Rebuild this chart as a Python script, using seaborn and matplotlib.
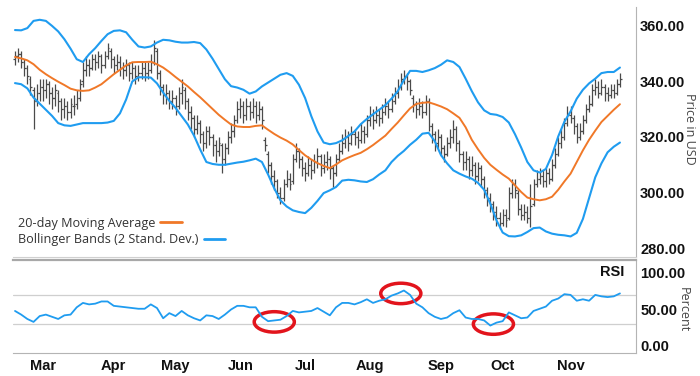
import matplotlib
matplotlib.use('Agg')
import matplotlib.pyplot as plt
from matplotlib.patches import Ellipse
from matplotlib.lines import Line2D
import seaborn as sns
import numpy as np
import pandas as pd

# daily OHLC bars (USD), one per trading day, mid-Feb to late Nov
opens = [348, 349, 350, 347, 345, 341, 337, 333, 336, 338,
         337, 339, 336, 334, 336, 333, 330, 331, 329, 331,
         332, 334, 340, 344, 346, 345, 348, 347, 349, 346,
         349, 351, 348, 346, 347, 345, 344, 346, 343, 345,
         342, 343, 345, 343, 344, 347, 351, 343, 338, 335,
         336, 333, 334, 331, 336, 337, 333, 329, 327, 323,
         325, 321, 318, 322, 320, 317, 315, 317, 312, 316,
         320, 322, 326, 330, 331, 328, 331, 329, 331, 328,
         330, 319, 314, 310, 306, 304, 300, 298, 303, 305,
         304, 312, 315, 312, 309, 307, 310, 308, 311, 313,
         309, 311, 312, 309, 307, 312, 315, 318, 320, 318,
         321, 320, 319, 322, 321, 326, 328, 326, 328, 327,
         329, 331, 330, 333, 336, 338, 341, 342, 340, 334,
         332, 330, 331, 329, 333, 324, 321, 318, 320, 316,
         314, 318, 320, 323, 318, 314, 311, 312, 308, 310,
         306, 309, 305, 301, 298, 296, 293, 291, 289, 292,
         291, 300, 303, 300, 294, 292, 293, 291, 296, 303,
         305, 306, 304, 307, 305, 310, 314, 318, 320, 325,
         328, 327, 324, 320, 322, 326, 330, 332, 337, 338,
         336, 338, 336, 335, 337, 336, 339]
highs = [351, 352, 351, 348, 346, 342, 338, 339, 341, 341,
         341, 340, 338, 339, 337, 334, 334, 333, 334, 335,
         337, 341, 347, 349, 348, 350, 350, 351, 350, 351,
         354, 352, 349, 350, 349, 347, 348, 347, 347, 346,
         346, 347, 347, 347, 350, 355, 352, 344, 339, 339,
         337, 337, 335, 338, 341, 338, 334, 331, 328, 328,
         326, 322, 324, 324, 321, 319, 320, 318, 318, 322,
         325, 328, 333, 334, 333, 334, 333, 334, 333, 333,
         331, 320, 315, 311, 308, 305, 302, 305, 308, 307,
         314, 318, 316, 313, 311, 313, 312, 314, 316, 314,
         314, 315, 313, 310, 314, 318, 321, 323, 322, 324,
         323, 322, 325, 324, 328, 331, 330, 331, 330, 332,
         334, 333, 336, 338, 341, 343, 344, 343, 341, 335,
         333, 334, 333, 335, 334, 325, 322, 323, 321, 317,
         320, 323, 326, 324, 319, 315, 315, 313, 313, 311,
         311, 310, 306, 302, 300, 297, 295, 293, 294, 294,
         302, 305, 305, 301, 296, 296, 295, 303, 305, 308,
         309, 308, 309, 309, 312, 316, 320, 323, 327, 331,
         331, 328, 325, 325, 328, 332, 335, 339, 341, 340,
         341, 339, 338, 339, 339, 341, 343]
lows = [346, 347, 345, 342, 339, 335, 323, 331, 333, 333,
        334, 332, 330, 331, 329, 326, 327, 326, 327, 328,
        330, 333, 338, 342, 342, 344, 344, 345, 343, 345,
        348, 345, 343, 344, 342, 341, 342, 340, 341, 339,
        340, 341, 340, 341, 343, 346, 341, 335, 332, 332,
        330, 330, 328, 330, 332, 330, 326, 323, 320, 321,
        318, 315, 316, 317, 313, 311, 313, 307, 310, 314,
        318, 320, 325, 327, 325, 326, 326, 327, 325, 326,
        323, 315, 307, 303, 301, 298, 296, 297, 302, 301,
        303, 311, 309, 306, 304, 306, 305, 307, 309, 306,
        307, 308, 305, 302, 306, 311, 314, 316, 315, 317,
        317, 316, 318, 318, 320, 324, 323, 325, 324, 325,
        328, 327, 329, 332, 334, 337, 339, 337, 335, 329,
        327, 328, 327, 328, 322, 318, 315, 316, 313, 311,
        313, 316, 318, 315, 311, 308, 308, 305, 306, 303,
        304, 302, 298, 295, 293, 290, 288, 287, 288, 287.5,
        290, 298, 298, 292, 290, 290, 289, 287.5, 295, 302,
        303, 302, 302, 303, 304, 309, 313, 316, 319, 324,
        325, 321, 318, 319, 321, 325, 329, 331, 335, 334,
        335, 333, 333, 334, 334, 335, 338]
closes = [349, 350, 347, 345, 342, 338, 333, 336, 338, 337,
          339, 336, 334, 337, 333, 330, 331, 329, 332, 331,
          334, 339, 344, 346, 345, 348, 347, 349, 346, 349,
          352, 348, 346, 347, 345, 344, 346, 343, 345, 342,
          343, 345, 343, 344, 347, 352, 343, 338, 335, 336,
          333, 334, 331, 336, 338, 333, 329, 327, 323, 325,
          321, 318, 322, 320, 317, 315, 318, 312, 316, 320,
          322, 326, 330, 331, 328, 331, 329, 331, 328, 330,
          326, 317, 310, 306, 304, 300, 298, 303, 305, 303,
          312, 315, 312, 309, 307, 310, 308, 311, 313, 309,
          311, 312, 309, 307, 312, 315, 318, 320, 318, 321,
          320, 319, 322, 321, 326, 328, 326, 328, 327, 329,
          331, 330, 333, 336, 338, 341, 342, 340, 337, 332,
          330, 331, 329, 333, 324, 321, 318, 320, 316, 314,
          318, 320, 323, 318, 314, 311, 312, 308, 310, 306,
          309, 305, 301, 298, 296, 293, 291, 289, 292, 290,
          300, 303, 301, 294, 292, 293, 291, 295, 303, 305,
          306, 304, 307, 305, 310, 314, 318, 320, 325, 328,
          327, 324, 320, 322, 326, 330, 332, 337, 338, 336,
          338, 336, 335, 337, 336, 339, 341]

band_step = 2
ma20 = [348.8, 348.3, 347.6, 346.2, 344.2, 342.6, 341.2, 339.9, 338.7, 337.4,
        336.8, 336.6, 336.8, 337.8, 339.0, 340.8, 342.6, 344.2, 345.8, 346.9,
        347.0, 347.0, 347.1, 346.2, 345.0, 343.4, 341.6, 339.9, 338.2, 336.2,
        334.3, 332.2, 330.1, 328.0, 326.2, 324.5, 323.8, 323.6, 323.6, 324.0,
        324.2, 322.6, 321.1, 319.8, 318.7, 317.3, 315.3, 313.4, 311.9, 310.6,
        309.6, 308.8, 310.1, 311.6, 312.6, 313.5, 314.3, 315.6, 317.1, 318.8,
        320.5, 322.9, 325.2, 327.8, 330.3, 331.9, 332.3, 332.5, 331.8, 331.0,
        330.0, 328.5, 326.9, 323.5, 319.0, 315.6, 312.5, 310.0, 308.2, 306.5,
        305.0, 302.6, 300.2, 298.2, 297.6, 297.2, 297.6, 298.5, 301.0, 304.0,
        306.8, 311.0, 315.2, 319.0, 322.3, 325.4, 327.6, 329.8, 331.8]
upper_band = [358.5, 358.4, 359.2, 361.8, 362.2, 361.8, 360.0, 358.0, 355.2, 351.8,
              348.0, 347.0, 349.8, 352.0, 354.6, 357.0, 358.2, 358.4, 357.7, 355.0,
              352.6, 352.2, 352.6, 354.0, 355.0, 354.8, 354.3, 354.0, 354.0, 354.2,
              353.8, 351.5, 348.2, 344.5, 340.8, 338.3, 337.8, 337.0, 335.6, 336.4,
              338.2, 339.6, 341.0, 342.4, 343.0, 342.0, 338.8, 334.0, 327.5, 322.0,
              318.0, 317.4, 317.8, 318.8, 320.4, 322.0, 324.6, 326.5, 328.2, 329.8,
              331.5, 333.8, 336.5, 340.5, 343.8, 343.8, 343.4, 344.0, 344.8, 346.0,
              347.6, 347.0, 345.2, 341.0, 336.5, 332.5, 329.6, 328.3, 328.0, 327.2,
              325.2, 321.0, 316.2, 311.0, 308.0, 307.2, 308.5, 313.5, 320.2, 325.5,
              329.2, 333.8, 337.0, 339.3, 341.0, 343.0, 343.4, 343.4, 345.0]
lower_band = [339.4, 339.0, 337.5, 334.2, 332.0, 329.8, 327.6, 325.0, 324.2, 324.0,
              324.5, 325.0, 325.0, 325.0, 325.0, 325.2, 325.8, 328.5, 333.5, 340.0,
              341.5, 341.5, 341.4, 339.3, 336.0, 333.0, 330.5, 327.5, 324.5, 320.5,
              315.5, 311.0, 310.3, 310.0, 310.0, 310.4, 310.8, 311.1, 311.6, 312.2,
              311.0, 306.5, 301.5, 297.2, 295.0, 293.6, 293.0, 292.6, 294.5, 297.0,
              299.8, 300.8, 302.0, 304.3, 304.6, 304.4, 304.0, 303.8, 304.8, 306.5,
              308.0, 311.0, 313.2, 315.0, 317.2, 319.0, 321.2, 321.5, 318.5, 313.5,
              310.5, 308.0, 306.8, 305.8, 305.0, 303.5, 301.0, 296.0, 290.0, 285.6,
              284.3, 284.2, 284.6, 285.8, 287.2, 287.4, 286.0, 285.2, 284.8, 284.6,
              284.2, 285.5, 290.5, 298.0, 305.5, 310.5, 314.5, 316.5, 318.0]

rsi_step = 2
rsi = [48, 43, 37, 33, 41, 43, 40, 37, 42, 43,
       53, 59, 57, 58, 61, 61, 55, 54, 53, 52,
       51, 51, 57, 52, 38, 45, 41, 48, 42, 38,
       35, 42, 41, 37, 43, 50, 55, 55, 53, 53,
       40, 34, 35, 36, 41, 48, 46, 47, 48, 52,
       47, 42, 53, 59, 59, 57, 60, 64, 59, 62,
       64, 69, 72, 76, 70, 58, 53, 45, 40, 37,
       39, 45, 49, 39, 37, 37, 35, 28, 32, 34,
       46, 42, 38, 39, 48, 51, 54, 62, 65, 71,
       70, 62, 64, 62, 70, 68, 67, 68, 72]

# RSI extremes circled in red (trading day, RSI value)
circled_days = [84, 125, 155]
circled_rsi = [33, 72, 30]

months = ['Mar', 'Apr', 'May', 'Jun', 'Jul', 'Aug', 'Sep', 'Oct', 'Nov']
month_start_day = [9, 32, 52, 73, 94, 115, 138, 158, 180]
price_ticks = [280, 300, 320, 340, 360]
rsi_ticks = [0, 50, 100]
rsi_levels = [30, 70]

blue = '#1f9cf0'
orange = '#f07828'
red = '#e2141c'
bar_col = '#4a4a4a'
frame_col = '#b4b4b4'

sns.set_style('white')
plt.rcParams['font.family'] = ['Liberation Sans', 'DejaVu Sans']

days = np.arange(len(closes))
bands = pd.DataFrame({'day': np.arange(len(ma20)) * band_step,
                      'ma': ma20, 'upper': upper_band, 'lower': lower_band})
rsi_df = pd.DataFrame({'day': np.arange(len(rsi)) * rsi_step, 'rsi': rsi})

fig = plt.figure(figsize=(7, 3.76), dpi=100)
ax = fig.add_axes([13 / 700, 1 - 257 / 376, 623 / 700, 250 / 376])
ax2 = fig.add_axes([13 / 700, 1 - 353 / 376, 623 / 700, 93 / 376])

# price bars
ax.vlines(days, lows, highs, color=bar_col, lw=0.9)
ax.hlines(opens, days - 0.55, days, color=bar_col, lw=0.9)
ax.hlines(closes, days, days + 0.55, color=bar_col, lw=0.9)

sns.lineplot(data=bands, x='day', y='upper', color=blue, lw=1.5, ax=ax, estimator=None)
sns.lineplot(data=bands, x='day', y='lower', color=blue, lw=1.5, ax=ax, estimator=None)
sns.lineplot(data=bands, x='day', y='ma', color=orange, lw=1.4, ax=ax, estimator=None)

xlim = (-0.65, 201.2)
ax.set_xlim(*xlim)
ax.set_ylim(276.8, 366.8)
ax.set_xlabel('')
ax.set_ylabel('')
ax.tick_params(axis='x', bottom=False, labelbottom=False)
ax.yaxis.tick_right()
ax.set_yticks(price_ticks)
ax.yaxis.set_major_formatter('{x:.2f}')
ax.tick_params(axis='y', length=0, pad=3, labelsize=10.5, labelcolor='#111111')
plt.setp(ax.get_yticklabels(), fontweight='bold')
for s in ['left', 'top']:
    ax.spines[s].set_visible(False)
ax.spines['right'].set_color(frame_col)
ax.spines['bottom'].set_color('#d0d0d0')

legend_font = {'family': ['Open Sans', 'DejaVu Sans'], 'size': 9.1}
leg1 = ax.legend(handles=[Line2D([], [], color=orange, lw=2)],
                 labels=['20-day Moving Average'], loc='center left',
                 bbox_to_anchor=(0.008, 0.136), markerfirst=False, frameon=False,
                 handlelength=1.7, handletextpad=0.4, borderpad=0,
                 borderaxespad=0, prop=legend_font, labelcolor='#333333')
ax.add_artist(leg1)
ax.legend(handles=[Line2D([], [], color=blue, lw=2)],
          labels=['Bollinger Bands (2 Stand. Dev.)'], loc='center left',
          bbox_to_anchor=(0.008, 0.068), markerfirst=False, frameon=False,
          handlelength=1.7, handletextpad=0.4, borderpad=0,
          borderaxespad=0, prop=legend_font, labelcolor='#333333')

# RSI panel
for lvl in rsi_levels:
    ax2.axhline(lvl, color='#cfcfcf', lw=0.9, zorder=0)
sns.lineplot(data=rsi_df, x='day', y='rsi', color=blue, lw=1.3, ax=ax2, estimator=None)
for d, r in zip(circled_days, circled_rsi):
    ax2.add_patch(Ellipse((d, r), width=13, height=28, fill=False, ec=red, lw=2.5))

ax2.set_xlim(*xlim)
ax2.set_ylim(-9.6, 117.8)
ax2.set_xlabel('')
ax2.set_ylabel('')
ax2.set_xticks(month_start_day)
ax2.set_xticklabels(months)
ax2.tick_params(axis='x', length=2.5, color=frame_col, pad=2, labelsize=10.5, labelcolor='#111111')
ax2.yaxis.tick_right()
ax2.set_yticks(rsi_ticks)
ax2.yaxis.set_major_formatter('{x:.2f}')
ax2.tick_params(axis='y', length=0, pad=3, labelsize=10.5, labelcolor='#111111')
plt.setp(ax2.get_yticklabels() + ax2.get_xticklabels(), fontweight='bold')
ax2.spines['left'].set_visible(False)
ax2.spines['top'].set_color('#a8a8a8')
ax2.spines['top'].set_linewidth(1.6)
ax2.spines['bottom'].set_color(frame_col)
ax2.spines['right'].set_color(frame_col)
ax2.text(0.982, 0.87, 'RSI', transform=ax2.transAxes, ha='right', va='center',
         fontsize=10.5, fontweight='bold', color='#111111')

fig.text(690 / 700, 1 - 129 / 376, 'Price in USD', rotation=270, ha='center', va='center',
         fontsize=9, color='#444444', family=['Open Sans', 'DejaVu Sans'])
fig.text(683 / 700, 1 - 310 / 376, 'Percent', rotation=270, ha='center', va='center',
         fontsize=9, color='#444444', family=['Open Sans', 'DejaVu Sans'])

fig.savefig('out.png', dpi=100)
